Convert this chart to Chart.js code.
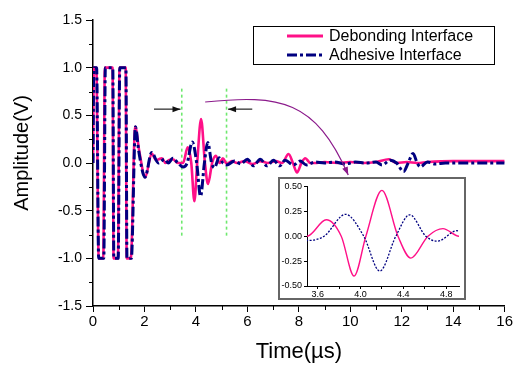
<!DOCTYPE html>
<html>
<head>
<meta charset="utf-8">
<script src="https://cdn.jsdelivr.net/npm/chart.js@4.4.1/dist/chart.umd.min.js"></script>
<style>
    html, body { margin: 0; padding: 0; background: #fff; }
    #wrap { position: relative; width: 514px; height: 368px; }
    #mainChart { position: absolute; left: 0; top: 0; }
    #insetBox { position: absolute; left: 278px; top: 177px; width: 184px; height: 119px; border: 2px solid #666; background: #fff; }
    #insetChart { display: block; }
</style>
</head>
<body>
<div id="wrap">
    <canvas id="mainChart" width="514" height="368"></canvas>
    <div id="insetBox"><canvas id="insetChart" width="184" height="119"></canvas></div>
</div>
<script>
// Debonding interface (pink, solid)
const debTime = [0, 0.03, 0.13, 0.22, 0.40, 0.46, 0.76, 0.80, 0.97, 1.03, 1.27, 1.31, 1.47,
    1.64, 1.80, 2.03, 2.28, 2.45, 2.56, 2.68, 2.82, 2.95, 3.10, 3.30, 3.50,
    3.68, 3.82, 3.94, 4.05, 4.20, 4.35, 4.47, 4.63, 4.77, 4.92,
    5.05, 5.20, 5.40, 5.60, 5.90, 6.20, 6.50, 6.80, 7.10, 7.35, 7.60, 7.77, 7.93, 8.10, 8.25, 8.45,
    8.70, 9.00, 9.50, 10.0, 10.5, 11.0, 11.5, 11.8, 12.2, 12.6, 13.0, 14.0, 15.0, 16.0];
const debAmp = [0, 1.0, 1.0, -1.0, -1.0, 1.0, 1.0, -1.0, -1.0, 1.0, 1.0, -1.0, -1.0,
    0.38, 0.12, -0.15, 0.10, 0.03, 0.04, 0.05, 0.0, 0.03, 0.04, 0.0, 0.0,
    0.165, 0.0, -0.40, 0.0, 0.46, 0.0, -0.22, 0.0, 0.076, 0.0,
    0.05, -0.01, 0.02, 0.0, 0.02, -0.01, 0.02, 0.0, 0.02, 0.0, 0.094, 0.0, -0.10, 0.0, 0.05, 0.0,
    0.0, 0.01, 0.0, 0.01, 0.0, 0.01, 0.04, 0.0, 0.01, 0.0, 0.01, 0.02, 0.02, 0.02];

// Adhesive interface (navy, dash-dot)
const adhTime = [0, 0.03, 0.14, 0.22, 0.42, 0.48, 0.77, 0.81, 0.98, 1.04, 1.28, 1.32, 1.49,
    1.65, 1.78, 2.02, 2.28, 2.54, 2.78, 2.93, 3.10, 3.30, 3.50,
    3.66, 3.86, 4.03, 4.18, 4.33, 4.46, 4.61, 4.72, 4.90,
    5.05, 5.20, 5.50, 5.75, 6.00, 6.24, 6.50, 6.76, 7.02, 7.25, 7.47, 7.79, 8.05, 8.30, 8.62,
    9.00, 9.40, 9.80, 10.2, 10.6, 11.0, 11.23, 11.56, 11.8, 12.07, 12.25, 12.44, 12.6, 12.72,
    13.0, 13.3, 13.7, 14.2, 14.7, 15.2, 15.7, 16.0];
const adhAmp = [0, 1.0, 1.0, -1.0, -1.0, 1.0, 1.0, -1.0, -1.0, 1.0, 1.0, -1.0, -1.0,
    0.38, 0.12, -0.15, 0.11, 0.0, 0.04, 0.0, 0.05, 0.0, -0.043,
    0.0, 0.22, 0.0, -0.35, 0.0, 0.215, 0.0, -0.05, 0.055,
    0.0, -0.02, 0.02, -0.01, 0.04, -0.03, 0.04, -0.03, 0.03, -0.03, 0.03, -0.02, 0.02, -0.02, 0.01,
    0.0, 0.01, -0.01, 0.01, 0.0, 0.01, -0.02, 0.03, 0.0, -0.09, 0.0, 0.10, 0.0, -0.04,
    0.01, -0.01, 0.0, 0.0, 0.0, 0.0, 0.0, 0.0];

// axis ticks
const xMinorTicks = [1, 3, 5, 7, 9, 11, 13, 15];
const yMinorTicks = [-1.25, -0.75, -0.25, 0.25, 0.75, 1.25];

// annotations (data units)
const windowTimes = [3.45, 5.19];
const windowSpan = [-0.78, 0.78];
const arrowLevel = 0.565;
const leftArrow = [2.37, 3.40];
const rightArrow = [6.19, 5.25];
const curveTimes = [4.36, 7.28, 8.64, 9.92];
const curveAmps = [0.64, 0.72, 0.66, -0.125];

const PINK = '#ff1088';
const NAVY = '#000080';
const FONT = '"Liberation Sans", Arial, sans-serif';

function toPoints(xs, ys) {
    return xs.map((x, i) => ({ x: x, y: ys[i] }));
}

function arrowHead(ctx, x, y, angle, len, half) {
    ctx.beginPath();
    ctx.moveTo(x, y);
    ctx.lineTo(x - len * Math.cos(angle) + half * Math.sin(angle), y - len * Math.sin(angle) - half * Math.cos(angle));
    ctx.lineTo(x - len * Math.cos(angle) - half * Math.sin(angle), y - len * Math.sin(angle) + half * Math.cos(angle));
    ctx.closePath();
    ctx.fill();
}

const minorTicks = {
    id: 'minorTicks',
    afterDraw(chart) {
        const ctx = chart.ctx;
        const { x, y } = chart.scales;
        ctx.save();
        ctx.strokeStyle = '#000';
        ctx.lineWidth = 1;
        ctx.beginPath();
        xMinorTicks.forEach(v => {
            const px = Math.round(x.getPixelForValue(v)) + 0.5;
            ctx.moveTo(px, x.top);
            ctx.lineTo(px, x.top + 4);
        });
        yMinorTicks.forEach(v => {
            const py = Math.round(y.getPixelForValue(v)) + 0.5;
            ctx.moveTo(y.right, py);
            ctx.lineTo(y.right - 4, py);
        });
        ctx.stroke();
        // y title sits a bit above the plot centre in the original
        ctx.translate(22, 153);
        ctx.rotate(-Math.PI / 2);
        ctx.fillStyle = '#000';
        ctx.font = '20px ' + FONT;
        ctx.textAlign = 'center';
        ctx.textBaseline = 'middle';
        ctx.fillText('Amplitude(V)', 0, 0);
        ctx.restore();
    }
};

const windowLines = {
    id: 'windowLines',
    beforeDatasetsDraw(chart) {
        const ctx = chart.ctx;
        const { x, y } = chart.scales;
        ctx.save();
        ctx.strokeStyle = '#6ee86e';
        ctx.lineWidth = 1.6;
        ctx.setLineDash([3, 3]);
        windowTimes.forEach(t => {
            const px = x.getPixelForValue(t);
            ctx.beginPath();
            ctx.moveTo(px, y.getPixelForValue(windowSpan[1]));
            ctx.lineTo(px, y.getPixelForValue(windowSpan[0]));
            ctx.stroke();
        });
        ctx.restore();
    },
    afterDatasetsDraw(chart) {
        const ctx = chart.ctx;
        const { x, y } = chart.scales;
        const py = y.getPixelForValue(arrowLevel);
        ctx.save();
        // black arrows pointing at the window
        ctx.strokeStyle = '#222';
        ctx.fillStyle = '#111';
        ctx.lineWidth = 1.2;
        [leftArrow, rightArrow].forEach(a => {
            const x0 = x.getPixelForValue(a[0]);
            const x1 = x.getPixelForValue(a[1]);
            ctx.beginPath();
            ctx.moveTo(x0, py);
            ctx.lineTo(x1, py);
            ctx.stroke();
            arrowHead(ctx, x1, py, x1 > x0 ? 0 : Math.PI, 8, 3);
        });
        // purple curve towards the inset
        const cx = curveTimes.map(t => x.getPixelForValue(t));
        const cy = curveAmps.map(v => y.getPixelForValue(v));
        ctx.strokeStyle = '#8b1a8b';
        ctx.fillStyle = '#8b1a8b';
        ctx.lineWidth = 1.2;
        ctx.beginPath();
        ctx.moveTo(cx[0], cy[0]);
        ctx.bezierCurveTo(cx[1], cy[1], cx[2], cy[2], cx[3], cy[3]);
        ctx.stroke();
        arrowHead(ctx, cx[3], cy[3], Math.atan2(cy[3] - cy[2], cx[3] - cx[2]), 8, 3);
        ctx.restore();
    }
};

const boxLegend = {
    id: 'boxLegend',
    afterDraw(chart) {
        const ctx = chart.ctx;
        ctx.save();
        ctx.fillStyle = '#fff';
        ctx.fillRect(253, 26, 242, 39);
        ctx.strokeStyle = '#000';
        ctx.lineWidth = 1;
        ctx.strokeRect(253.5, 26.5, 241, 38);
        const rows = [chart.data.datasets[1], chart.data.datasets[0]];
        ctx.font = '16px ' + FONT;
        ctx.textBaseline = 'middle';
        rows.forEach((ds, i) => {
            const yy = 36 + i * 19;
            ctx.strokeStyle = ds.borderColor;
            ctx.lineWidth = 3;
            ctx.setLineDash(ds.borderDash || []);
            ctx.beginPath();
            ctx.moveTo(287, yy);
            ctx.lineTo(323, yy);
            ctx.stroke();
            ctx.setLineDash([]);
            ctx.fillStyle = '#000';
            ctx.fillText(ds.label, 329, yy + 1);
        });
        ctx.restore();
    }
};

const mainCtx = document.getElementById('mainChart').getContext('2d');
new Chart(mainCtx, {
    type: 'line',
    data: {
        datasets: [
            {
                label: 'Adhesive Interface',
                data: toPoints(adhTime, adhAmp),
                borderColor: NAVY,
                borderWidth: 3,
                borderDash: [10, 3, 3, 3],
                pointRadius: 0,
                cubicInterpolationMode: 'monotone',
                fill: false
            },
            {
                label: 'Debonding Interface',
                data: toPoints(debTime, debAmp),
                borderColor: PINK,
                borderWidth: 2.6,
                pointRadius: 0,
                cubicInterpolationMode: 'monotone',
                fill: false
            }
        ]
    },
    options: {
        responsive: false,
        animation: false,
        layout: { padding: { left: 0, right: 9, top: 20, bottom: 0 } },
        plugins: { legend: { display: false }, tooltip: { enabled: false } },
        scales: {
            x: {
                type: 'linear',
                min: 0,
                max: 16,
                afterFit: s => { s.height = 62; },
                ticks: { stepSize: 2, padding: 1, color: '#000', font: { family: FONT, size: 15 } },
                grid: { drawOnChartArea: false, tickLength: 6, color: '#000' },
                border: { color: '#000', width: 1.5 },
                title: { display: true, text: 'Time(\u00b5s)', color: '#000', padding: { top: 0, bottom: 3 },
                    font: { family: FONT, size: 22 } }
            },
            y: {
                min: -1.5,
                max: 1.5,
                afterFit: s => { s.width = 93; },
                ticks: { stepSize: 0.5, padding: 4, color: '#000', font: { family: FONT, size: 14 },
                    callback: v => v.toFixed(1) },
                grid: { drawOnChartArea: false, tickLength: 7, color: '#000' },
                border: { color: '#000', width: 1.5 }
            }
        }
    },
    plugins: [minorTicks, windowLines, boxLegend]
});

// zoomed inset of the window 3.5 - 4.92 us
const insetCtx = document.getElementById('insetChart').getContext('2d');
new Chart(insetCtx, {
    type: 'line',
    data: {
        datasets: [
            {
                label: 'Adhesive Interface',
                data: toPoints(adhTime, adhAmp),
                borderColor: NAVY,
                borderWidth: 1.3,
                borderDash: [2, 1.5],
                pointRadius: 0,
                cubicInterpolationMode: 'monotone',
                fill: false
            },
            {
                label: 'Debonding Interface',
                data: toPoints(debTime, debAmp),
                borderColor: PINK,
                borderWidth: 1.4,
                pointRadius: 0,
                cubicInterpolationMode: 'monotone',
                fill: false
            }
        ]
    },
    options: {
        responsive: false,
        animation: false,
        layout: { padding: { left: 0, right: 5, top: 6, bottom: 0 } },
        plugins: { legend: { display: false }, tooltip: { enabled: false } },
        scales: {
            x: {
                type: 'linear',
                min: 3.5,
                max: 4.92,
                afterFit: s => { s.height = 12; },
                ticks: { stepSize: 0.2, includeBounds: false, autoSkip: false, maxRotation: 0, padding: 0, color: '#000',
                    font: { family: FONT, size: 9 },
                    callback: v => Math.abs(v / 0.4 - Math.round(v / 0.4)) < 1e-6 ? v.toFixed(1) : '' },
                grid: { drawOnChartArea: false, tickLength: 3, color: '#000' },
                border: { color: '#000', width: 1 }
            },
            y: {
                min: -0.5,
                max: 0.5,
                afterFit: s => { s.width = 27; },
                ticks: { stepSize: 0.25, padding: 2, color: '#000', font: { family: FONT, size: 9 },
                    callback: v => v.toFixed(2) },
                grid: { drawOnChartArea: false, tickLength: 3, color: '#000' },
                border: { color: '#000', width: 1 }
            }
        }
    }
});
</script>
</body>
</html>
